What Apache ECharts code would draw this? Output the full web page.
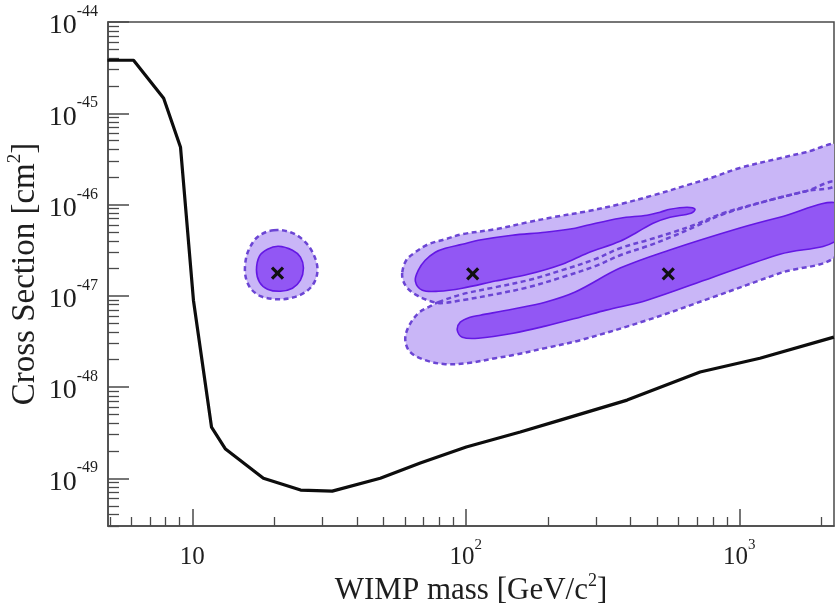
<!DOCTYPE html>
<html>
<head>
<meta charset="utf-8">
<script src="https://cdn.jsdelivr.net/npm/echarts@6/dist/echarts.min.js"></script>
<style>
  html, body { margin: 0; padding: 0; background: #ffffff; }
  #chart { width: 836px; height: 605px; }
</style>
</head>
<body>
<div id="chart"></div>
<script>
// Exclusion limit: WIMP mass [GeV/c^2] and cross section [cm^2]
const limitMass = [4.9, 6.1, 7.86, 9.06, 10.1, 11.76, 13.23, 18.2, 24.9, 32.5, 48.7, 68.2, 100.4, 158.2, 221.5, 389, 719, 1190, 2218];
const limitXsec = [3.81e-45, 3.81e-45, 1.46e-45, 4.24e-46, 8.95e-48, 3.64e-49, 2.09e-49, 1.0e-49, 7.43e-50, 7.24e-50, 1.0e-49, 1.47e-49, 2.20e-49, 3.21e-49, 4.34e-49, 7.19e-49, 1.46e-48, 2.07e-48, 3.52e-48];

// Best-fit points
const bestFitMass = [20.5, 106, 550];
const bestFitXsec = [1.77e-47, 1.74e-47, 1.74e-47];

// Allowed regions, [mass, cross section] outlines
const lowMass2Sigma = [[19.82,5.23e-47],[22.86,4.97e-47],[25.50,4.06e-47],[27.51,3.00e-47],[28.69,2.01e-47],[27.97,1.41e-47],[25.93,1.10e-47],[22.86,9.41e-48],[20.15,9.18e-48],[17.76,9.90e-48],[16.33,1.21e-47],[15.66,1.64e-47],[15.66,2.39e-47],[16.19,3.32e-47],[17.46,4.50e-47]];
const lowMass1Sigma = [[20.66,3.49e-47],[23.25,3.16e-47],[24.86,2.65e-47],[25.50,2.01e-47],[24.86,1.48e-47],[23.25,1.21e-47],[21.01,1.12e-47],[18.84,1.18e-47],[17.61,1.41e-47],[17.17,1.91e-47],[17.61,2.72e-47],[18.84,3.24e-47]];

const upperBranch2Sigma = [[58.6,1.81e-47],[60.6,2.45e-47],[65.4,3.00e-47],[73.0,3.67e-47],[84.2,4.17e-47],[97.1,4.73e-47],[128.2,5.36e-47],[169.2,6.40e-47],[208.8,7.26e-47],[277.9,8.44e-47],[366.7,1.01e-46],[484.0,1.26e-46],[644.2,1.63e-46],[801.7,1.99e-46],[997.5,2.50e-46],[1408,3.22e-46],[1752,3.74e-46],[2300,4.46e-46],[2300,1.71e-46],[1752,1.40e-46],[1328,1.14e-46],[872.0,7.83e-47],[694.8,5.79e-47],[572.6,4.50e-47],[460.2,3.49e-47],[366.7,2.78e-47],[297.2,2.11e-47],[225.3,1.60e-47],[169.2,1.24e-47],[128.2,1.04e-47],[97.1,8.95e-48],[80.7,8.30e-48],[74.2,8.73e-48],[67.1,9.90e-48],[61.7,1.18e-47],[59.1,1.45e-47]];
const upperBranch1Sigma = [[65.4,1.45e-47],[67.1,1.91e-47],[71.1,2.45e-47],[77.4,3.00e-47],[84.2,3.32e-47],[97.1,3.67e-47],[111.1,4.06e-47],[147.8,4.61e-47],[195.2,4.97e-47],[251.2,5.50e-47],[277.9,5.93e-47],[366.7,7.08e-47],[460.2,7.64e-47],[513.3,8.24e-47],[558.4,8.88e-47],[644.2,9.34e-47],[689.0,8.88e-47],[666.2,8.03e-47],[558.4,7.26e-47],[484.0,6.24e-47],[423.0,4.97e-47],[366.7,3.96e-47],[277.9,2.93e-47],[225.3,2.22e-47],[169.2,1.72e-47],[128.2,1.45e-47],[97.1,1.21e-47],[79.4,1.12e-47],[69.4,1.15e-47]];

const lowerBranch2Sigma = [[79.4,8.51e-48],[97.1,1.04e-47],[128.2,1.24e-47],[169.2,1.48e-47],[225.3,1.91e-47],[297.2,2.52e-47],[366.7,3.32e-47],[460.2,4.06e-47],[572.6,4.97e-47],[694.8,6.08e-47],[872.0,8.03e-47],[1328,1.14e-46],[1752,1.40e-46],[2300,1.71e-46],[2300,2.93e-47],[1408,1.77e-47],[801.7,9.65e-48],[460.2,5.40e-48],[262.0,3.26e-48],[195.2,2.67e-48],[149.1,2.24e-48],[128.2,2.07e-48],[102.1,1.83e-48],[84.2,1.78e-48],[71.1,1.97e-48],[62.7,2.41e-48],[60.1,3.26e-48],[61.7,4.53e-48],[67.1,6.45e-48],[74.2,7.69e-48]];
const lowerBranch1Sigma = [[93.1,4.20e-48],[95.5,5.14e-48],[103.8,5.83e-48],[113.0,6.13e-48],[147.8,7.13e-48],[195.2,8.51e-48],[251.2,1.10e-47],[366.7,2.01e-47],[553.6,3.16e-47],[997.5,5.50e-47],[1408,7.26e-47],[2300,1.03e-46],[2300,4.17e-47],[1408,2.85e-47],[801.7,1.60e-47],[460.2,8.95e-48],[326.1,6.96e-48],[262.0,5.83e-48],[195.2,4.65e-48],[149.1,3.89e-48],[111.1,3.43e-48],[97.1,3.52e-48]];

// Axis ranges and labelled ticks (cross section in cm^2)
const xRange = [4.92, 2220];
const yRange = [3.0e-50, 1e-44];
const xMajorTicks = [10, 100, 1000];
const yMajorTicks = [1e-49, 1e-48, 1e-47, 1e-46, 1e-45, 1e-44];

// The y axis works in units of 1e-50 cm^2 so the log scale keeps its precision
const Y_UNIT_EXP = -50;
const Y_SCALE = Math.pow(10, -Y_UNIT_EXP);
function toAxis(p) { return [p[0], p[1] * Y_SCALE]; }

// Minor ticks at 2..9 within each decade
function minorTicks(range, fromExp, toExp) {
  const out = [];
  for (let e = fromExp; e <= toExp; e++) {
    for (let m = 2; m <= 9; m++) {
      const v = m * Math.pow(10, e);
      if (v >= range[0] * 0.999 && v <= range[1] * 1.001) out.push(v);
    }
  }
  return out;
}
const yRangeAxis = [yRange[0] * Y_SCALE, yRange[1] * Y_SCALE];
const xMinorTicks = minorTicks(xRange, 0, 3);
const yMinorTicks = minorTicks(yRangeAxis, 0, 5);
const yMajorAxis = yMajorTicks.map(function (v) { return Math.round(v * Y_SCALE); });

const serif = 'Liberation Serif';
const axisColor = '#4a4a4a';
const textColor = '#1e1e1e';

const lightFill = '#c9b6f7';
const dashColor = '#6b45d4';
const darkFill = '#9257f4';
const darkEdge = '#6418e4';

function powerLabel(plainTen, shift) {
  return function (v) {
    const e = Math.round(Math.log10(v)) + shift;
    if (plainTen && e === 1) return '{b|10}';
    return '{b|10}{s|' + e + '}';
  };
}
function tickRich(size, supSize, raise) {
  return {
    b: { fontFamily: serif, fontSize: size, color: textColor, verticalAlign: 'bottom', padding: [raise, 0, 0, 0] },
    s: { fontFamily: serif, fontSize: supSize, color: textColor, verticalAlign: 'top' }
  };
}
function nameRich(size) {
  return {
    n: { fontFamily: serif, fontSize: size, color: textColor, verticalAlign: 'bottom', padding: [3, 0, 0, 0] },
    s: { fontFamily: serif, fontSize: Math.round(size * 0.58), color: textColor, verticalAlign: 'top' }
  };
}

function polygonLayer(polys, style, smooth) {
  return function (params, api) {
    return {
      type: 'group',
      children: polys.map(function (poly) {
        return {
          type: 'polygon',
          shape: { points: poly.map(function (p) { return api.coord(toAxis(p)); }), smooth: smooth },
          style: style
        };
      })
    };
  };
}

const lightPolys = [lowMass2Sigma, upperBranch2Sigma, lowerBranch2Sigma];
const darkPolys = [lowMass1Sigma, upperBranch1Sigma, lowerBranch1Sigma];
const anchor = [toAxis([100, 1e-47])];

const chart = echarts.init(document.getElementById('chart'), null, { renderer: 'canvas' });
chart.setOption({
  backgroundColor: '#ffffff',
  animation: false,
  grid: {
    left: 108, right: 2, top: 22, bottom: 79, containLabel: false, outerBoundsMode: 'none',
    show: true, borderColor: axisColor, borderWidth: 1.5, backgroundColor: 'transparent'
  },
  xAxis: [
    {
      type: 'log', logBase: 10, min: xRange[0], max: xRange[1], position: 'bottom',
      axisLine: { show: true, lineStyle: { color: axisColor, width: 1.5 } },
      axisTick: { show: true, inside: true, length: 17, customValues: xMajorTicks, lineStyle: { color: axisColor, width: 1.5 } },
      axisLabel: { show: true, customValues: xMajorTicks, margin: 12, formatter: powerLabel(true, 0), rich: tickRich(25, 15, 7) },
      splitLine: { show: false }, minorTick: { show: false }, minorSplitLine: { show: false },
      name: '{n|WIMP mass [GeV/c}{s|2}{n|]}', nameLocation: 'middle', nameGap: 46, nameMoveOverlap: false,
      nameTextStyle: { rich: nameRich(31) }
    },
    {
      type: 'log', logBase: 10, min: xRange[0], max: xRange[1], position: 'bottom',
      axisLine: { show: false },
      axisTick: { show: true, inside: true, length: 9, customValues: xMinorTicks, lineStyle: { color: axisColor, width: 1.3 } },
      axisLabel: { show: false }, splitLine: { show: false }
    }
  ],
  yAxis: [
    {
      type: 'log', logBase: 10, min: yRangeAxis[0], max: yRangeAxis[1], position: 'left',
      axisLine: { show: true, lineStyle: { color: axisColor, width: 1.5 } },
      axisTick: { show: true, inside: true, length: 21, customValues: yMajorAxis, lineStyle: { color: axisColor, width: 1.5 } },
      axisLabel: { show: true, customValues: yMajorAxis, margin: 10, formatter: powerLabel(false, Y_UNIT_EXP), rich: tickRich(28, 16, 8) },
      splitLine: { show: false }, minorTick: { show: false }, minorSplitLine: { show: false },
      name: '{n|Cross Section [cm}{s|2}{n|]}', nameLocation: 'middle', nameGap: 66, nameMoveOverlap: false,
      nameTextStyle: { rich: nameRich(33) }
    },
    {
      type: 'log', logBase: 10, min: yRangeAxis[0], max: yRangeAxis[1], position: 'left',
      axisLine: { show: false },
      axisTick: { show: true, inside: true, length: 11, customValues: yMinorTicks, lineStyle: { color: axisColor, width: 1.3 } },
      axisLabel: { show: false }, splitLine: { show: false }
    }
  ],
  series: [
    {
      name: '2 sigma fill', type: 'custom', clip: true, z: 2, data: anchor,
      renderItem: polygonLayer(lightPolys, { fill: lightFill, stroke: null }, 0.35)
    },
    {
      name: '2 sigma edge', type: 'custom', clip: true, z: 3, data: anchor,
      renderItem: polygonLayer(lightPolys, { fill: 'none', stroke: dashColor, lineWidth: 2.5, lineDash: [5, 3.5] }, 0.35)
    },
    {
      name: '1 sigma', type: 'custom', clip: true, z: 4, data: anchor,
      renderItem: polygonLayer(darkPolys, { fill: darkFill, stroke: darkEdge, lineWidth: 1.6 }, 0.35)
    },
    {
      name: 'limit', type: 'line', clip: true, z: 5, symbol: 'none', smooth: false,
      data: limitMass.map(function (m, i) { return toAxis([m, limitXsec[i]]); }),
      lineStyle: { color: '#0d0d0d', width: 3.2 }
    },
    {
      name: 'best fit', type: 'custom', z: 6,
      data: bestFitMass.map(function (m, i) { return toAxis([m, bestFitXsec[i]]); }),
      renderItem: function (params, api) {
        const c = api.coord([api.value(0), api.value(1)]);
        const h = 5.5;
        const st = { stroke: '#111111', lineWidth: 3.2 };
        return {
          type: 'group',
          children: [
            { type: 'line', shape: { x1: c[0] - h, y1: c[1] - h, x2: c[0] + h, y2: c[1] + h }, style: st },
            { type: 'line', shape: { x1: c[0] - h, y1: c[1] + h, x2: c[0] + h, y2: c[1] - h }, style: st }
          ]
        };
      }
    }
  ]
});
</script>
</body>
</html>
